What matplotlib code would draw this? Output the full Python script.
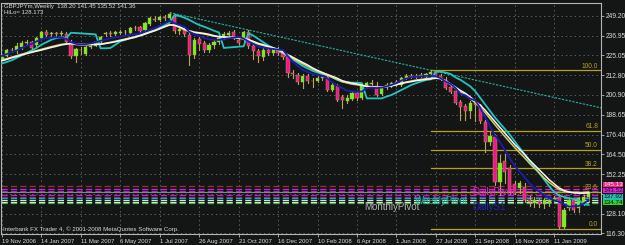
import matplotlib
matplotlib.use('Agg')
import matplotlib.pyplot as plt

# weekly bars, first bar = week of 19 Nov 2006
opens = [222.6, 224.8, 228.2, 227.6, 230.2, 232.6, 233.3, 231.3, 235.4, 239.4,
         238.3, 238.5, 237.8, 237.8, 231.3, 224.4, 228.3, 225.9, 230.3, 231.0,
         233.3, 237.8, 238.5, 237.8, 238.5, 239.3, 238.8, 241.5, 242.0, 240.3,
         244.2, 247.4, 246.8, 248.3, 247.8, 248.6, 239.6, 240.5, 237.4, 225.5,
         235.2, 232.3, 228.5, 231.3, 233.3, 236.0, 237.6, 239.2, 234.4, 235.4,
         239.2, 230.6, 227.6, 224.0, 228.0, 226.4, 228.2, 226.2, 224.0, 214.3,
         213.0, 209.0, 212.2, 209.2, 209.4, 211.3, 211.8, 204.0, 206.3, 199.8,
         197.4, 198.2, 201.8, 198.8, 206.4, 207.6, 206.2, 201.2, 205.5, 206.6,
         207.9, 207.0, 211.0, 212.3, 212.0, 212.4, 212.0, 213.5, 214.8, 212.4,
         209.9, 205.5, 203.4, 196.7, 194.1, 191.0, 196.1, 194.7, 184.5, 172.2,
         175.4, 147.8, 160.5, 156.0, 146.6, 143.8, 144.7, 136.6, 135.0, 136.0,
         134.0, 134.9, 136.6, 138.6, 120.3, 131.6, 136.6, 131.9, 134.9, 138.20]
highs = [224.8, 229.0, 229.5, 232.5, 233.5, 234.5, 234.0, 236.2, 240.0, 240.2,
         239.5, 239.3, 239.8, 239.3, 234.3, 229.5, 230.0, 231.0, 232.0, 234.0,
         237.0, 239.5, 239.6, 240.0, 240.5, 240.5, 242.3, 243.0, 243.0, 245.3,
         248.3, 249.0, 249.3, 249.6, 251.1, 250.5, 242.0, 242.0, 239.0, 235.3,
         236.3, 233.5, 232.8, 234.3, 236.8, 239.2, 240.0, 240.5, 236.2, 240.0,
         240.3, 232.0, 229.0, 229.5, 230.4, 230.0, 229.8, 227.5, 225.0, 216.0,
         214.0, 213.5, 213.5, 211.0, 212.5, 213.2, 212.5, 208.0, 207.5, 201.0,
         201.0, 202.8, 203.0, 207.5, 209.0, 209.8, 208.5, 206.5, 208.0, 209.0,
         210.0, 211.8, 213.3, 213.5, 213.6, 214.0, 214.5, 215.87, 215.5, 213.5,
         211.5, 206.5, 204.0, 197.5, 195.0, 197.0, 198.0, 195.5, 185.5, 178.5,
         177.0, 164.1, 164.5, 158.0, 148.5, 148.0, 147.0, 139.0, 138.5, 137.5,
         138.0, 138.0, 139.0, 140.0, 131.5, 137.5, 137.5, 138.5, 139.5, 141.45]
lows = [221.9, 224.3, 226.8, 226.5, 229.0, 231.5, 228.8, 230.5, 234.8, 236.5,
        237.0, 236.8, 237.0, 232.5, 223.3, 221.1, 226.0, 225.5, 229.3, 230.5,
        232.8, 236.8, 237.0, 237.2, 237.8, 238.0, 238.2, 240.5, 239.0, 239.5,
        243.8, 245.7, 246.0, 246.8, 247.3, 238.4, 238.2, 237.0, 219.1, 223.2,
        228.2, 227.0, 227.3, 229.5, 232.0, 235.0, 236.8, 234.8, 232.0, 233.5,
        229.5, 223.0, 221.1, 222.3, 225.5, 225.5, 225.5, 222.8, 212.0, 211.0,
        207.5, 204.9, 208.0, 205.8, 208.5, 210.0, 203.0, 203.2, 197.0, 192.6,
        196.0, 197.5, 198.0, 198.2, 205.0, 205.8, 200.0, 200.5, 204.5, 205.5,
        206.5, 206.5, 210.3, 211.0, 211.2, 211.5, 211.3, 213.0, 211.5, 210.2,
        204.5, 202.0, 195.5, 185.8, 185.5, 187.0, 185.0, 183.5, 166.0, 170.0,
        145.8, 139.5, 147.0, 140.5, 140.0, 141.0, 135.5, 133.0, 132.5, 132.5,
        131.5, 133.0, 134.5, 118.83, 119.5, 130.5, 129.5, 129.5, 133.5, 135.52]
closes = [224.0, 228.2, 228.0, 230.6, 232.7, 233.3, 229.3, 235.4, 239.4, 237.4,
          238.5, 237.8, 238.6, 233.3, 224.5, 228.7, 228.1, 230.3, 231.0, 233.2,
          236.4, 238.4, 238.2, 239.0, 239.5, 239.0, 241.5, 241.8, 239.8, 244.6,
          247.6, 246.8, 248.3, 248.0, 250.2, 239.6, 240.8, 238.0, 225.5, 234.2,
          232.0, 228.5, 231.3, 233.0, 235.8, 238.2, 238.8, 235.6, 232.8, 239.2,
          230.5, 227.4, 224.4, 228.0, 226.5, 228.7, 226.4, 224.2, 214.3, 213.3,
          209.0, 212.4, 209.2, 209.4, 211.3, 211.9, 204.0, 206.9, 197.9, 197.8,
          198.8, 201.8, 198.8, 206.8, 207.8, 208.4, 201.0, 205.3, 206.8, 207.9,
          208.8, 210.9, 212.3, 212.0, 212.5, 212.9, 213.6, 215.0, 212.5, 211.2,
          205.2, 202.8, 196.1, 193.2, 191.1, 196.1, 194.7, 184.6, 172.3, 176.0,
          147.8, 159.1, 153.5, 141.7, 141.1, 146.8, 136.6, 135.6, 136.6, 134.0,
          136.8, 136.6, 137.8, 120.3, 130.5, 136.6, 130.5, 137.8, 138.6, 141.36]

ma_blue = [224.6, 225.8, 227.0, 228.0, 229.5, 230.8, 232.0, 233.5, 234.8, 235.5,
           235.8, 236.0, 235.9, 235.0, 233.0, 232.0, 231.7, 231.8, 232.3, 233.0,
           233.9, 234.6, 235.4, 236.0, 236.4, 237.0, 237.6, 238.0, 238.4, 239.5,
           240.6, 241.5, 243.0, 244.5, 246.0, 244.6, 243.5, 242.5, 239.4, 238.0,
           236.8, 235.6, 234.8, 234.5, 234.4, 235.0, 235.4, 235.8, 236.2, 235.3,
           233.5, 232.0, 230.3, 229.8, 229.3, 228.9, 228.5, 228.2, 224.5, 221.1,
           218.5, 216.0, 214.8, 213.6, 213.0, 212.4, 210.8, 208.5, 206.5, 205.0,
           203.4, 203.0, 202.8, 202.9, 205.0, 205.3, 205.0, 205.3, 206.0, 206.9,
           208.0, 209.6, 210.8, 211.6, 211.9, 212.2, 212.4, 212.5, 212.2, 211.0,
           209.0, 207.5, 205.0, 201.5, 200.5, 198.5, 197.5, 193.0, 187.5, 181.5,
           176.0, 172.0, 167.0, 162.0, 157.5, 154.0, 150.5, 146.8, 144.0, 141.7,
           139.5, 137.7, 136.5, 135.6, 134.0, 132.6, 132.8, 133.0, 134.5, 136.6]
ma_white = [221.7, 222.5, 223.5, 224.3, 225.2, 226.0, 226.8, 227.5, 228.2, 229.0,
            229.8, 230.5, 231.3, 231.8, 232.3, 232.0, 231.8, 231.7, 231.7, 231.7,
            231.7, 232.2, 232.7, 233.3, 234.0, 234.6, 235.3, 236.0, 237.0, 238.0,
            239.0, 240.0, 241.2, 242.4, 243.5, 243.5, 242.5, 241.0, 240.0, 239.2,
            238.8, 238.4, 237.8, 237.0, 236.4, 236.2, 236.0, 236.0, 235.6, 235.4,
            234.6, 233.5, 232.3, 231.5, 230.5, 229.6, 228.7, 227.0, 225.3, 223.8,
            222.2, 220.6, 219.1, 217.3, 215.8, 214.5, 213.3, 212.2, 211.0, 209.5,
            208.7, 208.0, 207.5, 206.8, 206.0, 205.8, 205.5, 205.6, 205.9, 206.3,
            207.0, 207.8, 208.4, 208.9, 209.5, 209.9, 210.3, 210.6, 211.0, 210.8,
            209.5, 207.5, 205.5, 203.5, 201.8, 199.5, 197.0, 194.5, 191.5, 188.0,
            184.5, 181.0, 177.5, 174.0, 170.5, 167.5, 164.5, 161.0, 158.0, 155.0,
            152.0, 149.0, 146.5, 144.0, 142.5, 141.5, 141.0, 140.8, 140.8, 141.0]
ma_yellow = [222.2, 223.0, 223.9, 224.8, 225.7, 226.5, 227.2, 227.9, 228.7, 229.5,
             230.3, 231.0, 231.7, 232.0, 232.0, 231.6, 231.4, 231.4, 231.5, 231.7,
             231.9, 232.4, 233.0, 233.6, 234.3, 235.0, 235.7, 236.4, 237.3, 238.3,
             239.3, 240.3, 241.5, 242.7, 243.8, 243.2, 242.0, 240.6, 239.4, 238.8,
             238.5, 238.0, 237.4, 236.7, 236.3, 236.2, 236.1, 235.9, 235.4, 235.0,
             234.0, 232.9, 231.8, 231.0, 230.0, 229.2, 228.2, 226.4, 224.6, 223.0,
             221.4, 219.8, 218.3, 216.6, 215.2, 214.0, 212.8, 211.6, 210.3, 208.9,
             208.1, 207.4, 207.0, 206.6, 206.0, 205.8, 205.4, 205.5, 205.9, 206.4,
             207.2, 208.0, 208.7, 209.3, 209.9, 210.3, 210.7, 211.0, 211.2, 210.8,
             209.2, 207.0, 204.8, 202.6, 200.8, 198.5, 196.0, 193.2, 190.0, 186.3,
             182.6, 179.0, 175.4, 172.0, 168.6, 165.5, 162.4, 159.0, 156.0, 153.0,
             150.0, 147.3, 145.0, 143.0, 142.0, 141.5, 141.3, 141.2, 141.2, 141.5]
hilo = [220.0, 221.0, 222.0, 223.5, 225.0, 226.5, 228.0, 229.5, 231.5, 233.0,
        234.5, 235.5, 236.0, 235.5, 238.8, 238.6, 238.4, 238.2, 238.0, 237.8,
        229.3, 229.3, 229.5, 231.5, 233.5, 234.5, 235.5, 236.4, 237.0, 238.0,
        239.5, 240.5, 242.0, 243.5, 245.0, 249.6, 249.0, 248.0, 246.6, 245.0,
        243.5, 242.5, 241.3, 240.0, 239.0, 229.5, 229.8, 230.0, 230.3, 230.5,
        238.5, 237.0, 235.0, 233.0, 231.0, 229.5, 228.0, 226.5, 224.5, 222.5,
        220.5, 218.5, 217.0, 215.5, 214.5, 213.5, 213.0, 211.5, 210.0, 209.0,
        208.5, 208.3, 208.3, 208.0, 198.7, 198.7, 198.7, 198.7, 199.8, 200.8,
        202.3, 203.8, 205.3, 206.9, 208.0, 209.0, 209.9, 210.3, 215.0, 215.0,
        214.5, 213.6, 211.5, 210.0, 208.0, 206.0, 203.0, 199.0, 195.0, 191.0,
        187.0, 183.5, 180.0, 176.5, 172.5, 168.5, 164.5, 160.5, 157.0, 153.0,
        149.0, 145.0, 141.5, 139.5, 138.5, 137.8, 137.2, 136.6, 134.0, 133.6]

date_labels = ['19 Nov 2006', '14 Jan 2007', '11 Mar 2007', '6 May 2007', '1 Jul 2007',
               '26 Aug 2007', '21 Oct 2007', '16 Dec 2007', '10 Feb 2008', '6 Apr 2008',
               '1 Jun 2008', '27 Jul 2008', '21 Sep 2008', '16 Nov 2008', '11 Jan 2009']
date_bars = [0, 8, 16, 24, 32, 40, 48, 56, 64, 72, 80, 88, 96, 104, 112]
price_ticks = [249.20, 236.95, 225.05, 212.80, 200.90, 188.65, 176.40, 164.50,
               152.25, 140.35, 128.10, 116.30]
price_labels = ['249.20', '236.95', '225.05', '212.80', '200.90', '188.65', '176.40',
                '164.50', '152.25', '', '128.10', '116.30']

# fibo from Aug 2008 high to Jan 2009 low
fib_high = (87, 215.87)
fib_low = (113, 118.83)
fib_levels = [0.0, 23.6, 38.2, 50.0, 61.8, 100.0]
# trend line through the two highs
trend_p1 = (34, 251.1)
trend_p2 = (87, 215.87)

pivot_levels = [145.13, 143.52, 142.40, 139.70, 138.30, 137.92, 136.60, 135.60, 134.74]
pivot_colors = ['#8c3c1e', '#d21ed2', '#9a30c8', '#b428b4', '#8a1ea0', '#1fa8a8',
                '#dcdcdc', '#e8e8e8', '#2ec82e']
box_labels = ['145.13', '143.52', '137.92', '134.74']
box_prices = [146.1, 142.5, 138.6, 135.0]
box_colors = ['#ff1c8c', '#e01ee0', '#20c0b4', '#30d030']

BG = '#141616'
BULL = '#72f41e'
BEAR = '#f2168c'
WICK = '#b9a552'
FIB = '#b8a21c'
TXT = '#dadada'
plt.rcParams['font.family'] = ['Liberation Sans Narrow', 'Liberation Sans', 'DejaVu Sans']

fig = plt.figure(figsize=(6.25, 2.45), dpi=100, facecolor=BG)
ax = fig.add_axes([1 / 625, 11 / 245, 600 / 625, 231 / 245], facecolor=BG)

n = len(closes)
xmax = 121.5
ax.set_xlim(-0.2, xmax)
ax.set_ylim(115.87, 256.96)

# grid
for p in price_ticks:
    ax.axhline(p, color='#5c5e5e', lw=0.7, ls=(0, (1.5, 3)), zorder=0)
for b in date_bars:
    ax.axvline(b, color='#5c5e5e', lw=0.7, ls=(0, (1.5, 3)), zorder=0)

# pivot lines
for lvl, col in zip(pivot_levels, pivot_colors):
    ax.axhline(lvl, color=col, lw=0.9, ls=(0, (5, 2.5)), zorder=1)
# bid line
ax.axhline(closes[-1], color='#8a8a8a', lw=0.7, zorder=1)

# fibo
x_f0 = fib_high[0]
for lv in fib_levels:
    price = fib_low[1] + (fib_high[1] - fib_low[1]) * lv / 100.0
    ax.plot([x_f0, xmax], [price, price], color=FIB, lw=0.9, zorder=2)
    ax.text(xmax - 0.6, price + 0.4, f'{lv:.1f}', color=FIB, fontsize=4.8,
            ha='right', va='bottom', zorder=6)

# trend line ray
slope = (trend_p2[1] - trend_p1[1]) / (trend_p2[0] - trend_p1[0])
ax.plot([trend_p1[0], xmax], [trend_p1[1], trend_p1[1] + slope * (xmax - trend_p1[0])],
        color='#25b0a4', lw=0.8, ls=(0, (2, 1.2)), zorder=2)

# candles
for i in range(n):
    o, h, l, c = opens[i], highs[i], lows[i], closes[i]
    ax.plot([i, i], [l, h], color=WICK, lw=0.8, zorder=3)
    col = BULL if c >= o else BEAR
    ax.bar(i, max(abs(c - o), 0.35), bottom=min(o, c), width=0.64, color=col,
           edgecolor=WICK, linewidth=0.3, zorder=4)

xs = list(range(n))
ax.plot(xs, hilo, color='#22c4c0', lw=1.3, zorder=5)
ax.plot(xs, ma_yellow, color='#d4cc6a', lw=1.1, zorder=5)
ax.plot(xs, ma_white, color='#f4f4ee', lw=1.1, zorder=5)
ax.plot(xs, ma_blue, color='#1c1cb4', lw=1.3, zorder=5)

# pivot names
wide = ['Liberation Sans', 'DejaVu Sans']
ax.text(73.4, 132.6, 'MonthlyPivot', color='#b4b4b4', fontsize=7, va='center',
        family=wide, zorder=6)
ax.text(83.7, 135.8, 'WeeklyPivot', color='#1fb0a8', fontsize=7, va='center',
        family=wide, zorder=6)
ax.text(95.3, 141.8, 'DailyPivot', color='#e020d0', fontsize=7, va='center',
        family=wide, zorder=6)
ax.text(95.3, 132.3, 'DailyS1', color='#2424b4', fontsize=7, va='center',
        family=wide, zorder=6)

# axes look
for s in ax.spines.values():
    s.set_color('#b4b4b4')
    s.set_linewidth(0.8)
ax.yaxis.tick_right()
ax.set_yticks(price_ticks)
ax.set_yticklabels(price_labels)
ax.set_xticks(date_bars)
ax.set_xticklabels(date_labels)
ax.tick_params(axis='x', colors='#b4b4b4', labelcolor=TXT, labelsize=4.3,
               length=2, width=0.6, pad=1.5)
ax.tick_params(axis='y', colors='#b4b4b4', labelcolor=TXT, labelsize=4.8,
               length=2, width=0.6, pad=1.5)
for t in ax.get_xticklabels():
    t.set_horizontalalignment('left')

# coloured price boxes at the right
for p, lab, col in zip(box_prices, box_labels, box_colors):
    ax.text(xmax + 0.5, p, lab, color='#f0f0f0' if col == '#ff1c8c' else '#101010',
            fontsize=4.6, va='center', ha='left', clip_on=False, zorder=7,
            bbox=dict(boxstyle='square,pad=0.04', fc=col, ec='none'))

fig.text(4 / 625, 1 - 6.5 / 245, 'GBPJPYm,Weekly  138.20 141.45 135.52 141.36',
         color=TXT, fontsize=4.3, va='center', ha='left')
fig.text(4 / 625, 1 - 12.5 / 245, 'HiLo= 128.173', color=TXT, fontsize=4.3,
         va='center', ha='left')
fig.text(3 / 625, 1 - 229 / 245,
         'Interbank FX Trader 4, \u00a9 2001-2008 MetaQuotes Software Corp.',
         color=TXT, fontsize=4.4, va='center', ha='left')

fig.savefig('out.png', dpi=100, facecolor=BG)
